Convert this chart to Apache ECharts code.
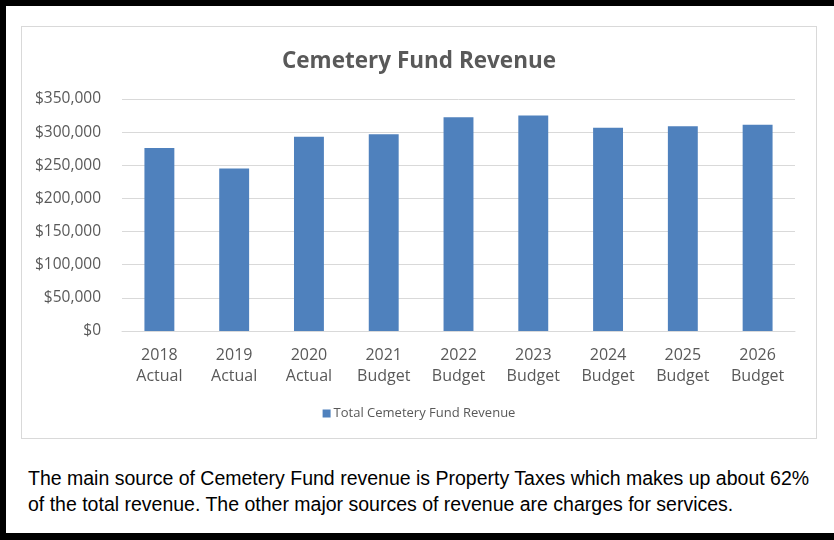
<!DOCTYPE html>
<html>
<head>
<meta charset="utf-8">
<script src="https://cdn.jsdelivr.net/npm/echarts@6/dist/echarts.min.js"></script>
<style>
  html, body { margin: 0; padding: 0; background: #fff; }
  #page {
    position: relative; width: 828px; height: 527px; overflow: hidden;
    border-top: 6px solid #000; border-left: 6px solid #000; border-bottom: 7px solid #000;
  }
  #chart {
    position: absolute; left: 15px; top: 20px; width: 794px; height: 411px;
    border: 1.5px solid #d9d9d9;
  }
  #note {
    position: absolute; left: 22px; top: 459px; width: 810px; white-space: nowrap;
    font-family: "Liberation Sans", Arial, sans-serif; font-size: 19.5px; line-height: 26px; color: #000;
  }
</style>
</head>
<body>
<div id="page">
  <div id="chart"></div>
  <div id="note">The main source of Cemetery Fund revenue is Property Taxes which makes up about 62%<br>of the total revenue. The other major sources of revenue are charges for services.</div>
</div>
<script>
var years = ['2018', '2019', '2020', '2021', '2022', '2023', '2024', '2025', '2026'];
var kinds = ['Actual', 'Actual', 'Actual', 'Budget', 'Budget', 'Budget', 'Budget', 'Budget', 'Budget'];
var revenue = [276000, 245000, 293000, 297000, 322500, 325000, 306500, 309000, 311000];
var seriesName = 'Total Cemetery Fund Revenue';

var categories = years.map(function (y, i) { return y + '\n' + kinds[i]; });

var dom = document.getElementById('chart');
var myChart = echarts.init(dom);
var option = {
    animation: false,
    title: {
        text: 'Cemetery Fund Revenue',
        left: 'center',
        top: 18,
        textStyle: {
            fontFamily: 'Open Sans',
            fontWeight: 'bold',
            fontSize: 22.5,
            color: '#595959'
        }
    },
    legend: {
        data: [seriesName],
        bottom: 13,
        left: 'center',
        itemWidth: 8,
        itemHeight: 8,
        itemGap: 4,
        icon: 'rect',
        textStyle: {
            fontFamily: 'Open Sans',
            fontSize: 13,
            color: '#595959',
            padding: [0, 0, 0, -2]
        }
    },
    grid: {
        left: 100,
        right: 21,
        top: 72,
        bottom: 107,
        containLabel: false
    },
    xAxis: {
        type: 'category',
        data: categories,
        axisLine: { lineStyle: { color: '#d9d9d9', width: 1 } },
        axisTick: { show: false },
        axisLabel: {
            margin: 14,
            fontFamily: 'Open Sans',
            fontSize: 16,
            lineHeight: 21,
            color: '#595959'
        }
    },
    yAxis: {
        type: 'value',
        min: 0,
        max: 350000,
        interval: 50000,
        axisLine: { show: false },
        axisTick: { show: false },
        splitLine: { lineStyle: { color: '#d9d9d9', width: 1 } },
        axisLabel: {
            margin: 21,
            fontFamily: 'Open Sans',
            fontSize: 15.5,
            color: '#595959',
            formatter: function (v) {
                return '$' + v.toLocaleString('en-US');
            }
        }
    },
    series: [{
        name: seriesName,
        type: 'bar',
        data: revenue,
        barWidth: '40%',
        itemStyle: { color: '#4f81bd' }
    }]
};
myChart.setOption(option);
</script>
</body>
</html>
